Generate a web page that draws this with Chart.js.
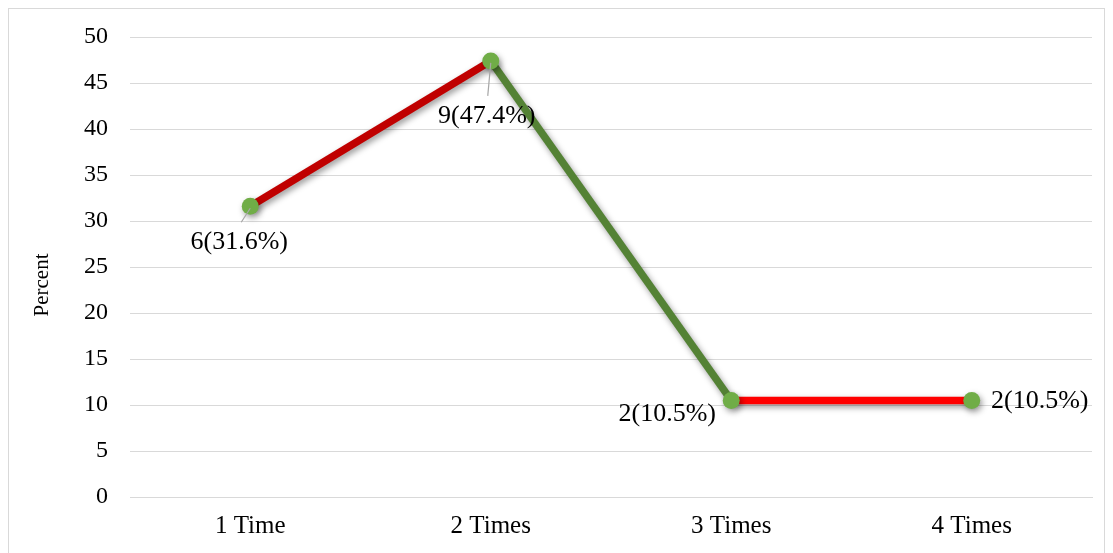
<!DOCTYPE html>
<html>
<head>
<meta charset="utf-8">
<script src="https://cdn.jsdelivr.net/npm/chart.js@4.4.1/dist/chart.umd.min.js"></script>
<style>
  html, body { margin: 0; padding: 0; background: #fff; }
  #wrap { position: relative; width: 1113px; height: 553px; }
</style>
</head>
<body>
<div id="wrap"><canvas id="chart"></canvas></div>
<script>
// data
const categories = ['1 Time', '2 Times', '3 Times', '4 Times'];
const percents = [31.6, 47.4, 10.5, 10.5];
const counts = [6, 9, 2, 2];
const yTicks = [0, 5, 10, 15, 20, 25, 30, 35, 40, 45, 50];

// colours per segment (1->2, 2->3, 3->4)
const segColors = ['#c00000', '#548235', '#ff0000'];
const pointColor = '#70ad47';
const serif = "'Liberation Serif', 'Times New Roman', serif";

// label offsets relative to each point (dx, dy) and whether a leader line is drawn
const labelPlace = [
  { dx: -11, dy: 36, leader: true },
  { dx: -4, dy: 55, leader: true },
  { dx: -64, dy: 14, leader: false },
  { dx: 68, dy: 1, leader: false }
];

const framePlugin = {
  id: 'frame',
  beforeDraw(chart) {
    const ctx = chart.ctx;
    ctx.save();
    ctx.strokeStyle = '#d9d9d9';
    ctx.lineWidth = 1;
    ctx.strokeRect(8.5, 8.5, 1096, 600);
    // axis title
    ctx.fillStyle = '#000';
    ctx.font = '21px ' + serif;
    ctx.textAlign = 'center';
    ctx.textBaseline = 'middle';
    ctx.translate(42, 285);
    ctx.rotate(-Math.PI / 2);
    ctx.fillText('Percent', 0, 0);
    ctx.restore();
  }
};

const shadowPlugin = {
  id: 'lineShadow',
  beforeDatasetDraw(chart) {
    const ctx = chart.ctx;
    ctx.save();
    ctx.shadowColor = 'rgba(0,0,0,0.4)';
    ctx.shadowBlur = 6;
    ctx.shadowOffsetX = 2;
    ctx.shadowOffsetY = 3;
  },
  afterDatasetDraw(chart) {
    chart.ctx.restore();
  }
};

const labelPlugin = {
  id: 'pointLabels',
  afterDatasetsDraw(chart) {
    const ctx = chart.ctx;
    const meta = chart.getDatasetMeta(0);
    ctx.save();
    meta.data.forEach((pt, i) => {
      const p = labelPlace[i];
      const lx = pt.x + p.dx;
      const ly = pt.y + p.dy;
      if (p.leader) {
        ctx.strokeStyle = '#a6a6a6';
        ctx.lineWidth = 1.2;
        ctx.beginPath();
        ctx.moveTo(pt.x, pt.y + 2);
        ctx.lineTo(pt.x + (p.dx < -6 ? -9 : -3), ly - 20);
        ctx.stroke();
      }
      ctx.fillStyle = '#000';
      ctx.font = '26px ' + serif;
      ctx.textAlign = 'center';
      ctx.textBaseline = 'middle';
      ctx.fillText(counts[i] + '(' + percents[i] + '%)', lx, ly);
    });
    ctx.restore();
  }
};

new Chart(document.getElementById('chart'), {
  type: 'line',
  data: {
    labels: categories,
    datasets: [{
      data: percents,
      borderWidth: 7.5,
      borderColor: segColors[0],
      segment: {
        borderColor: c => segColors[c.p0DataIndex]
      },
      tension: 0,
      pointRadius: 8.5,
      pointHoverRadius: 8.5,
      pointBackgroundColor: pointColor,
      pointBorderColor: pointColor,
      pointBorderWidth: 0
    }]
  },
  options: {
    responsive: true,
    maintainAspectRatio: false,
    animation: false,
    events: [],
    layout: { padding: { left: 0, top: 37, right: 21, bottom: 0 } },
    plugins: {
      legend: { display: false },
      tooltip: { enabled: false }
    },
    scales: {
      x: {
        offset: true,
        grid: { display: false, drawTicks: false },
        border: { display: true, color: '#d9d9d9', width: 1 },
        ticks: { color: '#000', font: { family: serif, size: 25 }, padding: 14 },
        afterFit(scale) { scale.height = 56; }
      },
      y: {
        min: 0,
        max: 50,
        afterBuildTicks(scale) { scale.ticks = yTicks.map(v => ({ value: v })); },
        grid: { color: '#d9d9d9', lineWidth: 1, drawTicks: false },
        border: { display: false },
        ticks: { color: '#000', font: { family: serif, size: 24 }, padding: 22 },
        afterFit(scale) { scale.width = 130; }
      }
    }
  },
  plugins: [framePlugin, shadowPlugin, labelPlugin]
});
</script>
</body>
</html>
